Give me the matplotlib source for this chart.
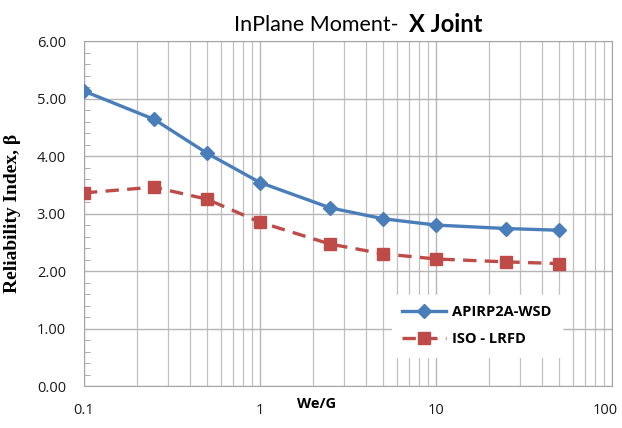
import matplotlib.pyplot as plt
from matplotlib.ticker import FixedLocator, NullFormatter, MultipleLocator
from matplotlib.transforms import ScaledTranslation

# data
we_g = [0.1, 0.25, 0.5, 1, 2.5, 5, 10, 25, 50]
api_wsd = [5.13, 4.64, 4.05, 3.54, 3.10, 2.91, 2.80, 2.74, 2.71]
iso_lrfd = [3.36, 3.46, 3.25, 2.85, 2.47, 2.30, 2.21, 2.16, 2.13]
x_ticks = [0.1, 1, 10, 100]
x_labels = ['0.1', '1', '10', '100']

plt.rcParams['font.family'] = ['Open Sans', 'DejaVu Sans']

fig = plt.figure(figsize=(6.22, 4.28), dpi=100)
ax = fig.add_axes([0.135, 0.098, 0.849, 0.806])

blue = '#4a7ebb'
red = '#be4b48'

ax.plot(we_g, api_wsd, color=blue, lw=2.4, marker='D', ms=7, label='APIRP2A-WSD', zorder=3)
ax.plot(we_g, iso_lrfd, color=red, lw=2.4, ls=(0, (4, 2.5)), marker='s', ms=8, label='ISO - LRFD', zorder=3)

ax.set_xscale('log')
ax.set_xlim(0.1, 100)
ax.set_ylim(0, 6)

ax.xaxis.set_major_locator(FixedLocator(x_ticks))
ax.set_xticklabels(x_labels)
minors = [m * 10.0 ** e for e in range(-1, 2) for m in range(2, 10)]
ax.xaxis.set_minor_locator(FixedLocator(minors))
ax.xaxis.set_minor_formatter(NullFormatter())
ax.yaxis.set_major_locator(MultipleLocator(1))
ax.yaxis.set_minor_locator(MultipleLocator(0.2))
ax.yaxis.set_major_formatter(plt.FuncFormatter(lambda v, p: f'{v:.2f}'))

ax.grid(True, which='major', color='#b5b5b5', lw=1)
ax.grid(True, which='minor', axis='x', color='#c0c0c0', lw=0.9)
ax.set_axisbelow(True)

ax.tick_params(axis='x', which='both', length=0, pad=12, labelsize=10.5, labelcolor='#1a1a1a')
ax.tick_params(axis='y', which='major', length=0, pad=13, labelsize=10.5, labelcolor='#1a1a1a')
ax.tick_params(axis='y', which='minor', direction='in', length=4, color='#a0a0a0')
for s in ax.spines.values():
    s.set_color('#a6a6a6')

# keep "100" inside the figure
last = ax.get_xticklabels()[-1]
last.set_horizontalalignment('right')
last.set_transform(last.get_transform() + ScaledTranslation(0.06, 0, fig.dpi_scale_trans))

ax.set_ylabel('Reliability Index, β', family=['Liberation Serif', 'DejaVu Serif'],
              fontweight='bold', fontsize=14)
ax.yaxis.set_label_coords(-0.12, 0.5)
ax.text(0.441, -0.052, 'We/G', transform=ax.transAxes, fontsize=10.5, fontweight='bold',
        ha='center', va='center')

fig.text(0.376, 0.942, 'InPlane Moment-', family=['Lato', 'DejaVu Sans'], fontsize=15.5,
         ha='left', va='center')
fig.text(0.658, 0.942, 'X Joint', family=['Lato', 'DejaVu Sans'], fontsize=17,
         fontweight='bold', ha='left', va='center')

leg = ax.legend(loc='upper left', bbox_to_anchor=(0.57, 0.285), frameon=True, fancybox=False,
                framealpha=1, edgecolor='white', prop={'weight': 'bold', 'size': 10.5},
                handlelength=3.0, labelspacing=0.9, borderpad=0.7, handletextpad=0.4)

fig.savefig('out.png', dpi=100)
